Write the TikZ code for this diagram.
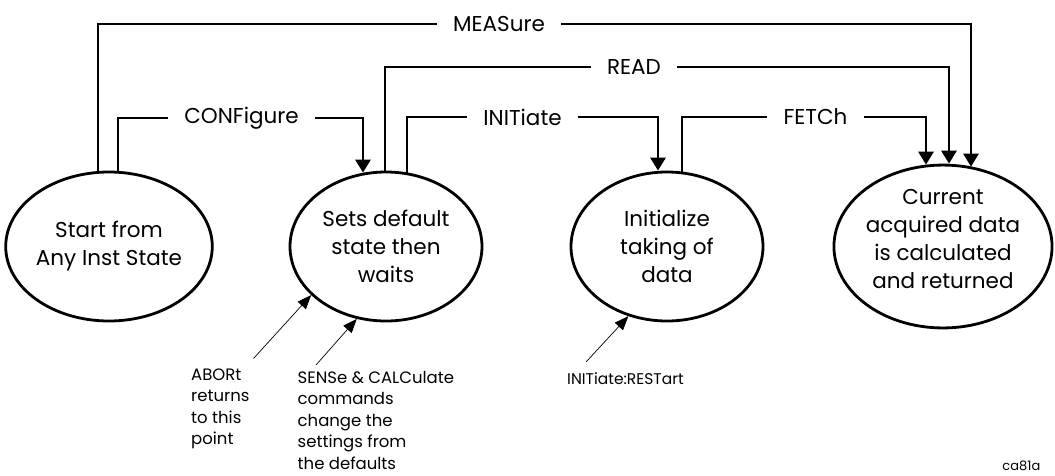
\documentclass[tikz,border=0pt]{standalone}
\usepackage{fontspec}
\setmainfont{Poppins}
\usetikzlibrary{arrows.meta,shapes.geometric}
\tikzset{
  state/.style={draw,ellipse,line width=2.8pt,minimum width=192pt,minimum height=149pt,
    inner sep=0pt,align=center,font=\fontsize{21.5}{28}\selectfont},
  wire/.style={line width=2.9pt},
  wirearrow/.style={wire,-{Triangle[length=13pt,width=15pt]}},
  cmd/.style={inner xsep=16pt,inner ysep=0pt,font=\fontsize{21.5}{24}\selectfont},
  pointer/.style={line width=0.7pt,-{Triangle[length=14pt,width=11pt]}},
  note/.style={align=left,inner sep=0pt,font=\fontsize{16.5}{21.5}\selectfont}
}
\begin{document}
\begin{tikzpicture}[x=1pt,y=-1pt]
\useasboundingbox (0,0) rectangle (1055,475);
% states
\node[state] (start) at (109,246.5) {Start from\\Any Inst State};
\node[state] (set) at (386,246.5) {Sets default\\state then\\waits};
\node[state] (init) at (667,246.5) {Initialize\\taking of\\data};
\node[state] (result) at (943,246.5) {Current\\acquired data\\is calculated\\and returned\\[-12pt]\mbox{}};
% commands
\node[cmd] (measure) at (499,24) {MEASure};
\node[cmd] (read) at (634,67) {READ};
\node[cmd] (configure) at (241.5,118) {CONFigure};
\node[cmd] (initiate) at (522.5,117) {INITiate};
\node[cmd] (fetch) at (815.5,117) {FETCh};
\draw[wire] ([xshift=-11pt]start.north) |- (measure.west);
\draw[wirearrow] (measure.east) -| ([xshift=28pt,yshift=-3pt]result.north);
\draw[wire] ([xshift=9pt]start.north) |- (configure.west);
\draw[wirearrow] (configure.east) -| ([xshift=-23pt,yshift=-2pt]set.north);
\draw[wire] ([xshift=-1pt]set.north) |- (read.west);
\draw[wirearrow] (read.east) -| ([xshift=6pt]result.north);
\draw[wire] ([xshift=21pt,yshift=-2pt]set.north) |- (initiate.west);
\draw[wirearrow] (initiate.east) -| ([xshift=-9pt]init.north);
\draw[wire] ([xshift=15pt,yshift=-1pt]init.north) |- (fetch.west);
\draw[wirearrow] (fetch.east) -| ([xshift=-17pt,yshift=-1pt]result.north);
% notes
\node[note,anchor=north west] (abort) at (191,368.6) {ABORt\\returns\\to this\\point};
\node[note,anchor=north west] (sense) at (297.5,371) {SENSe \& CALCulate\\commands\\change the\\settings from\\the defaults};
\node[note,anchor=base west,font=\fontsize{15.5}{20}\selectfont] (restart) at (567,384) {INITiate:RESTart};
\coordinate (aborttail) at (253.5,358.5);
\coordinate (sensetail) at (316,365);
\coordinate (restarttail) at (586,362);
\draw[pointer] (aborttail) -- (set.213);
\draw[pointer] (sensetail) -- (set.248);
\draw[pointer] (restarttail) -- (init.241);
\node[anchor=base east,inner sep=0pt,font=\fontsize{13}{15}\selectfont] (figid) at (1040.5,470) {ca81a};
\end{tikzpicture}
\end{document}
